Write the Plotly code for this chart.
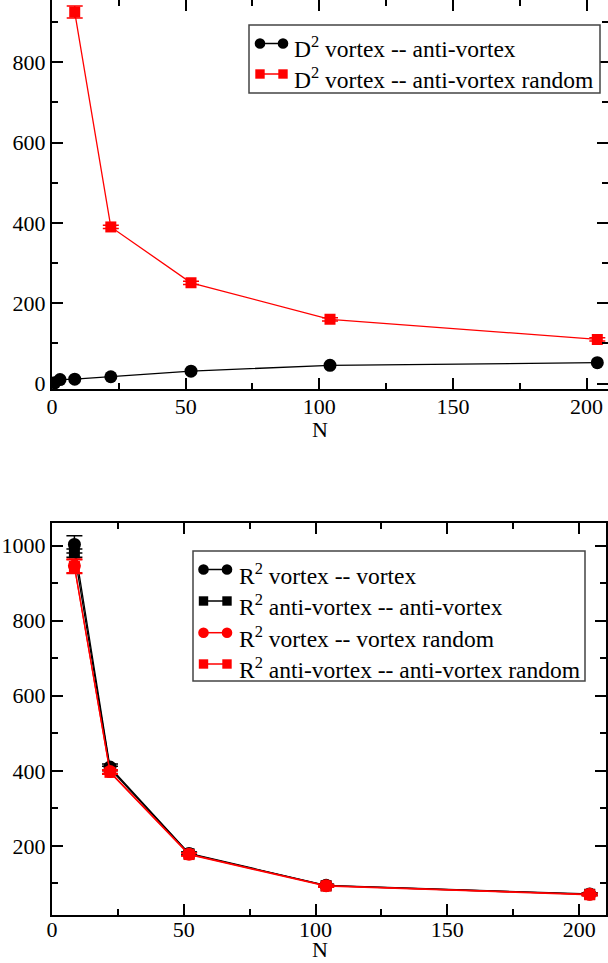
import plotly.graph_objects as go

# ---------------- data ----------------
N_top_black = [1, 3, 8.5, 22, 52, 104, 204]
D2_va = [2, 10, 11, 17, 31, 45.5, 52]

N_top_red = [8.5, 22, 52, 104, 204]
D2_va_random = [925, 390, 251, 160, 110]
D2_va_random_err = [15, 4, 4, 4, 4]

N_bot = [8.5, 22, 52, 104, 204]
R2_vv = [1003, 410, 180, 95, 72]
R2_vv_err = [23, 8, 4, 3, 3]
R2_aa = [980, 406, 179, 94, 71]
R2_aa_err = [11, 6, 4, 3, 3]
R2_vv_random = [946, 398, 178, 94, 71]
R2_vv_random_err = [18, 5, 4, 3, 3]
R2_aa_random = [944, 396, 177, 93, 70]
R2_aa_random_err = [18, 5, 4, 3, 3]

x_title = "N"
top_legend = ["D<sup>2</sup> vortex -- anti-vortex",
              "D<sup>2</sup> vortex -- anti-vortex random"]
bot_legend = ["R<sup>2</sup> vortex -- vortex",
              "R<sup>2</sup> anti-vortex -- anti-vortex",
              "R<sup>2</sup> vortex -- vortex random",
              "R<sup>2</sup> anti-vortex -- anti-vortex random"]

# ---------------- layout geometry ----------------
W, H = 608, 963
L, R, T, B = 52, 0, 0, 48
PW, PH = W - L - R, H - T - B
FONT = "Times New Roman, Liberation Serif, DejaVu Serif, serif"


def px(x):
    return (x - L) / PW


def py(y):
    return (PH - (y - T)) / PH


fig = go.Figure()


def add_series(x, y, err, color, symbol, size, xa, ya):
    kw = {}
    if err is not None:
        kw["error_y"] = dict(type="data", array=err, visible=True, color=color,
                             thickness=1.5, width=8)
    fig.add_trace(go.Scatter(
        x=x, y=y, mode="lines+markers", xaxis=xa, yaxis=ya,
        line=dict(color=color, width=1.3),
        marker=dict(color=color, symbol=symbol, size=size,
                    line=dict(width=0)),
        showlegend=False, **kw))


add_series(N_top_black, D2_va, None, "black", "circle", 13, "x", "y")
add_series(N_top_red, D2_va_random, D2_va_random_err, "red", "square", 11, "x", "y")

add_series(N_bot, R2_vv, R2_vv_err, "black", "circle", 13, "x2", "y2")
add_series(N_bot, R2_aa, R2_aa_err, "black", "square", 11, "x2", "y2")
add_series(N_bot, R2_vv_random, R2_vv_random_err, "red", "circle", 13, "x2", "y2")
add_series(N_bot, R2_aa_random, R2_aa_random_err, "red", "square", 11, "x2", "y2")


def axis(**kw):
    d = dict(showline=True, linecolor="black", linewidth=2,
             ticks="inside", ticklen=11, tickwidth=1.5, tickcolor="black",
             mirror="allticks", showgrid=False, zeroline=False, automargin=False,
             tickfont=dict(family=FONT, size=22, color="black"))
    d.update(kw)
    return d


minor_x = dict(ticks="inside", ticklen=6, tickwidth=1.5, tickcolor="black", dtick=25)
minor_y = dict(ticks="inside", ticklen=6, tickwidth=1.5, tickcolor="black", dtick=100)

fig.update_layout(
    width=W, height=H, margin=dict(l=L, r=R, t=T, b=B, pad=0),
    paper_bgcolor="white", plot_bgcolor="white",
    font=dict(family=FONT, color="black"),
    xaxis=axis(domain=[0, 1], range=[0, 208], dtick=50, tick0=0, anchor="y",
               minor=minor_x, ticklabelstandoff=-4),
    yaxis=axis(domain=[py(389.3), 1], range=[-14.2, 955], dtick=200, tick0=0,
               anchor="x", minor=minor_y),
    xaxis2=axis(domain=[0, px(605.5)], range=[0, 210], dtick=50, tick0=0,
                anchor="y2", minor=minor_x, ticklabelstandoff=-6),
    yaxis2=axis(domain=[0, py(522.7)], range=[16, 1061], dtick=200, tick0=0,
                anchor="x2", minor=minor_y),
)

# ---------------- hand-drawn legends (marker-line-marker) ----------------
shapes = []
annotations = []

# axis titles
for yc in (429, 949.5):
    annotations.append(dict(xref="paper", yref="paper", x=px(320), y=py(yc),
                            xanchor="center", yanchor="middle", showarrow=False,
                            text=x_title,
                            font=dict(family=FONT, size=22, color="black")))


def legend_box(x0, y0, x1, y1):
    shapes.append(dict(type="rect", xref="paper", yref="paper",
                       x0=px(x0), x1=px(x1), y0=py(y1), y1=py(y0),
                       line=dict(color="#444", width=1.5), fillcolor="white",
                       layer="above"))


def legend_entry(xa, xb, yc, color, symbol, text, xt):
    shapes.append(dict(type="line", xref="paper", yref="paper",
                       x0=px(xa), x1=px(xb), y0=py(yc), y1=py(yc),
                       line=dict(color=color, width=1.5), layer="above"))
    for xc in (xa, xb):
        r = 5.3 if symbol == "circle" else 4.7
        shapes.append(dict(type="circle" if symbol == "circle" else "rect",
                           xref="paper", yref="paper",
                           x0=px(xc - r), x1=px(xc + r),
                           y0=py(yc + r), y1=py(yc - r),
                           line=dict(color=color, width=0), fillcolor=color,
                           layer="above"))
    annotations.append(dict(xref="paper", yref="paper", x=px(xt), y=py(yc + 4),
                            xanchor="left", yanchor="middle", showarrow=False,
                            text=text,
                            font=dict(family=FONT, size=23.5, color="black")))


legend_box(249, 25, 600, 93)
top_styles = [("black", "circle"), ("red", "square")]
top_rows = [43.5, 74]
for (c, s), lab, yc in zip(top_styles, top_legend, top_rows):
    legend_entry(260, 283, yc, c, s, lab, 292)

legend_box(193, 551, 585, 681)
bot_styles = [("black", "circle"), ("black", "square"), ("red", "circle"), ("red", "square")]
bot_rows = [569.5, 601, 632.7, 664]
for (c, s), lab, yc in zip(bot_styles, bot_legend, bot_rows):
    legend_entry(203.5, 227, yc, c, s, lab, 236.5)

fig.update_layout(shapes=shapes, annotations=annotations)

fig.write_html("out.html")
